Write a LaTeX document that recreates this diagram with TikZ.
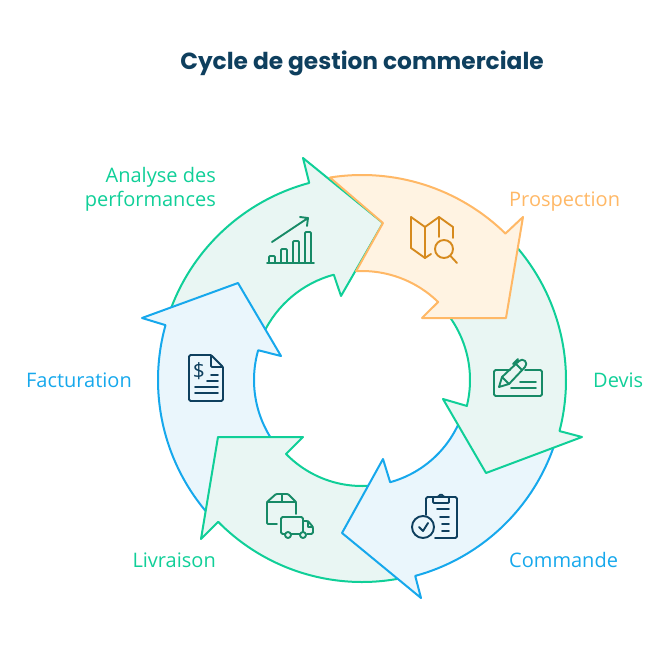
\documentclass[tikz,border=0pt]{standalone}
\usepackage{fontspec}
\setmainfont{Open Sans}
\newfontfamily\titlefont{Poppins}
\usetikzlibrary{calc}
\definecolor{gline}{HTML}{10CF98}
\definecolor{gfill}{HTML}{E9F6F3}
\definecolor{gicon}{HTML}{178A66}
\definecolor{bline}{HTML}{16A8EC}
\definecolor{bfill}{HTML}{EAF6FC}
\definecolor{oline}{HTML}{FFB866}
\definecolor{ofill}{HTML}{FFF3E2}
\definecolor{oicon}{HTML}{D68A1E}
\definecolor{navy}{HTML}{0E3F5E}

\begin{document}
\begin{tikzpicture}[x=1pt, y=-1pt, line join=round,
  ga/.style={draw=gline, fill=gfill, line width=2pt},
  ba/.style={draw=bline, fill=bfill, line width=2pt},
  oa/.style={draw=oline, fill=ofill, line width=2pt},
  ic/.style={line width=1.9pt, line cap=round},
  lab/.style={font=\fontsize{20}{24}\selectfont, inner sep=0pt}]
\useasboundingbox (0,0) rectangle (669,647);
\coordinate (c) at (362,380);

% arrows, last one on top
\draw[ga] ($(c)+(199:204)$) arc[start angle=199, end angle=255, radius=204] -- (303,158) -- (383,223) -- (341,296)
  -- ($(c)+(255:109)$) arc[start angle=255, end angle=205, radius=109] -- cycle;
\draw[ba] ($(c)+(137:204)$) arc[start angle=137, end angle=195.6, radius=204] -- (142,318) -- (238,283) -- (281,356)
  -- ($(c)+(196:108)$) arc[start angle=196, end angle=143, radius=108] -- cycle;
\draw[ga] ($(c)+(76:202)$) arc[start angle=76, end angle=135.4, radius=202] -- (201,539) -- (218,437) -- (303,437)
  -- ($(c)+(135.8:106)$) arc[start angle=135.8, end angle=83, radius=106] -- cycle;
\draw[ba] ($(c)+(16:203)$) arc[start angle=16, end angle=74.8, radius=203] -- (421,598) -- (342,533) -- (383,459)
  -- ($(c)+(74.6:106)$) arc[start angle=74.6, end angle=22, radius=106] -- cycle;
\draw[ga] ($(c)+(-44:204)$) arc[start angle=-44, end angle=14.5, radius=204] -- (582,437) -- (486,473) -- (443,399)
  -- ($(c)+(13.9:108)$) arc[start angle=13.9, end angle=-38, radius=108] -- cycle;
\draw[oa] ($(c)+(261:205)$) arc[start angle=261, end angle=314.4, radius=205] -- (523,217) -- (506,318) -- (422,318)
  -- ($(c)+(314.3:109)$) arc[start angle=314.3, end angle=266.9, radius=109] -- (383,223) -- cycle;

% labels
\node[lab, text=gline, anchor=base east, align=right] (analyse) at (216,207) {Analyse des\\performances};
\node[lab, text=oline, anchor=base west] (prospection) at (509,207) {Prospection};
\node[lab, text=gline, anchor=base west] (devis) at (593,387) {Devis};
\node[lab, text=bline, anchor=base west] (commande) at (509,567) {Commande};
\node[lab, text=gline, anchor=base east] (livraison) at (216,567) {Livraison};
\node[lab, text=bline, anchor=base east] (facturation) at (132,387) {Facturation};
\node[inner sep=0pt, text=navy, font=\titlefont\bfseries\fontsize{23.3}{26}\selectfont] (title) at (362,63) {Cycle de gestion commerciale};

% chart
\draw[ic, gicon] (267,263) -- (314,263);
\foreach \x/\t in {269/256, 281/249, 293/241, 305/232}
  \draw[ic, gicon, rounded corners=1pt] (\x,263) -- (\x,\t) -- (\x+6,\t) -- (\x+6,263);
\draw[ic, gicon] (272,242) -- (308,218) (300,217) -- (308,218) -- (307,226);

% map
\draw[ic, oicon] (411,217) -- (411,248) -- (425,258) -- (425,227) -- cycle;
\draw[ic, oicon] (425,258) -- (431,254) (425,227) -- (439,217) -- (453,227) -- (453,238) (439,217) -- (439,237);
\node[circle, draw=oicon, line width=1.9pt, minimum size=18pt, inner sep=0pt] (lens) at (444,249) {};
\coordinate (hend) at (457,263);
\draw[ic, oicon] (lens) -- (hend);

% cheque
\draw[ic, gicon, rounded corners=1.5pt] (510,370) -- (494,370) -- (494,396) -- (542,396) -- (542,370) -- (525,370);
\draw[ic, gicon] (499,387) -- (502,377) -- (519,361) .. controls (523,357) and (529,363) .. (525,367) -- (509,384) -- cycle
  (502,377) -- (509,384) (513,364) -- (518,359) (516,364) -- (522,370);
\draw[ic, gicon] (520,382) -- (536,382) (511,388) -- (536,388);

% clipboard
\draw[ic, navy, rounded corners=1.5pt] (426,515) -- (426,497) -- (457,497) -- (457,538) -- (435,538);
\draw[ic, navy, rounded corners=1pt] (433,497) -- (433,503) -- (449,503) -- (449,497) -- (444,497) -- (441,494) -- (438,497) -- cycle;
\foreach \y/\x in {509/437, 517/440, 524/442, 531/442}
  \draw[ic, navy] (\x,\y) -- (449,\y);
\node[circle, draw=navy, line width=1.9pt, minimum size=22pt, inner sep=0pt] (tick) at (423,527) {};
\draw[ic, navy] (419,527) -- (423,531) -- (428,523);

% box and truck
\draw[ic, gicon, rounded corners=1pt] (277,524) -- (267,524) -- (267,502) -- (276,494) -- (288,494) -- (296,502) -- (296,514);
\draw[ic, gicon] (267,502) -- (296,502) (282,494) -- (282,502);
\draw[ic, gicon, rounded corners=1.5pt] (285,534) -- (281,534) -- (281,517) -- (303,517) -- (303,532);
\draw[ic, gicon, rounded corners=1.5pt] (303,521) -- (308,521) -- (313,527) -- (313,534) -- (307,534);
\draw[ic, gicon] (308,521) -- (308,527) -- (313,527) (291,534) -- (300,534);
\node[circle, draw=gicon, line width=1.9pt, minimum size=6pt, inner sep=0pt] (w1) at (288,535) {};
\node[circle, draw=gicon, line width=1.9pt, minimum size=6pt, inner sep=0pt] (w2) at (303,535) {};

% invoice
\draw[ic, navy, rounded corners=1.5pt] (223,367) -- (223,401) -- (189,401) -- (189,355) -- (211,355);
\draw[ic, navy, rounded corners=1pt] (211,355) -- (223,367) -- (211,367) -- cycle;
\node[inner sep=0pt, text=navy, font=\fontsize{21}{24}\selectfont] (dollar) at (199,371) {\$};
\draw[ic, navy] (211,375) -- (218,375) (207,381) -- (218,381);
\foreach \y in {387,393}
  \draw[ic, navy] (195,\y) -- (218,\y);
\end{tikzpicture}
\end{document}
